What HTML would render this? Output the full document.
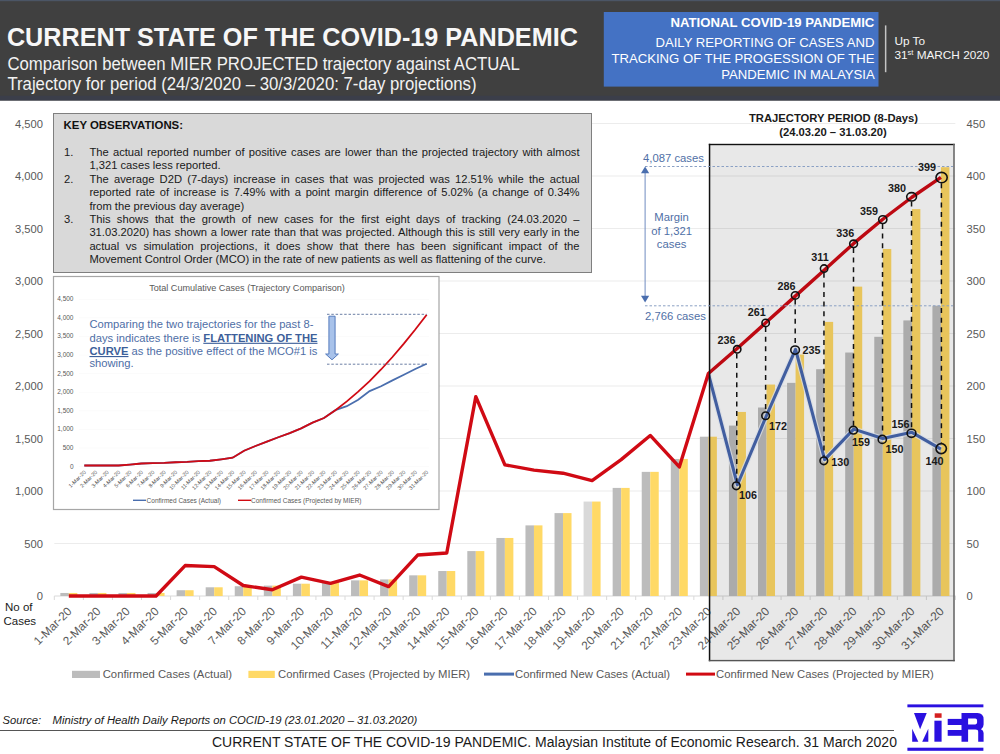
<!DOCTYPE html>
<html><head><meta charset="utf-8"><style>
html,body{margin:0;padding:0;background:#fff;}
body{width:1000px;height:754px;position:relative;overflow:hidden;font-family:"Liberation Sans", sans-serif;}
.abs{position:absolute;}
.ko{position:absolute;left:89.4px;width:490.2px;font-size:11.2px;line-height:13.4px;color:#1a1a1a;white-space:nowrap;}
.j{text-align:justify;text-align-last:justify;white-space:normal;}
</style></head><body>

<svg class="abs" style="left:0;top:0" width="1000" height="754" viewBox="0 0 1000 754" font-family='"Liberation Sans", sans-serif'>
<rect x="0" y="0" width="1000" height="100.5" fill="#404040"/>
<rect x="0" y="0" width="1000" height="1.2" fill="#4b5565"/>
<rect x="0" y="95.8" width="1000" height="4.7" fill="#3b3e4a"/>
<text x="6.9" y="46.2" font-size="25.2" font-weight="bold" fill="#f7f7f7">CURRENT STATE OF THE COVID-19 PANDEMIC</text>
<text transform="translate(7.4,69.9) scale(1,1.07)" font-size="16.75" fill="#f2f2f2">Comparison between MIER PROJECTED trajectory against ACTUAL</text>
<text transform="translate(7.4,89.7) scale(1,1.07)" font-size="16.75" fill="#f2f2f2">Trajectory for period (24/3/2020 – 30/3/2020: 7-day projections)</text>
<rect x="603.8" y="12" width="274.7" height="74.6" fill="#4472c4"/>
<g fill="#ffffff" text-anchor="end" font-size="13.15">
<text x="874.3" y="27" font-weight="bold">NATIONAL COVID-19 PANDEMIC</text>
<text x="874.5" y="46.6">DAILY REPORTING OF CASES AND</text>
<text x="874.5" y="62.5">TRACKING OF THE PROGESSION OF THE</text>
<text x="874.8" y="78.5">PANDEMIC IN MALAYSIA</text>
</g>
<rect x="884.9" y="25.4" width="1.5" height="46.8" fill="#c4c4c4"/>
<text x="894.4" y="45.4" font-size="11.8" fill="#f5f5f5">Up To</text>
<text x="894.4" y="59" font-size="11.8" fill="#f5f5f5">31<tspan font-size="7.5" dy="-4.3">st</tspan><tspan dy="4.3"> MARCH 2020</tspan></text>
<rect x="54.3" y="543.00" width="901" height="1" fill="#ececec"/>
<rect x="54.3" y="490.50" width="901" height="1" fill="#ececec"/>
<rect x="54.3" y="438.00" width="901" height="1" fill="#ececec"/>
<rect x="54.3" y="385.50" width="901" height="1" fill="#ececec"/>
<rect x="54.3" y="333.00" width="901" height="1" fill="#ececec"/>
<rect x="54.3" y="280.50" width="901" height="1" fill="#ececec"/>
<rect x="54.3" y="228.00" width="901" height="1" fill="#ececec"/>
<rect x="54.3" y="175.50" width="901" height="1" fill="#ececec"/>
<rect x="54.3" y="123.00" width="901" height="1" fill="#ececec"/>
<rect x="54.3" y="595.5" width="901.5" height="1" fill="#d9d9d9"/>
<rect x="53.80" y="596.0" width="1" height="4" fill="#d9d9d9"/>
<rect x="82.87" y="596.0" width="1" height="4" fill="#d9d9d9"/>
<rect x="111.94" y="596.0" width="1" height="4" fill="#d9d9d9"/>
<rect x="141.01" y="596.0" width="1" height="4" fill="#d9d9d9"/>
<rect x="170.08" y="596.0" width="1" height="4" fill="#d9d9d9"/>
<rect x="199.15" y="596.0" width="1" height="4" fill="#d9d9d9"/>
<rect x="228.22" y="596.0" width="1" height="4" fill="#d9d9d9"/>
<rect x="257.29" y="596.0" width="1" height="4" fill="#d9d9d9"/>
<rect x="286.36" y="596.0" width="1" height="4" fill="#d9d9d9"/>
<rect x="315.43" y="596.0" width="1" height="4" fill="#d9d9d9"/>
<rect x="344.50" y="596.0" width="1" height="4" fill="#d9d9d9"/>
<rect x="373.57" y="596.0" width="1" height="4" fill="#d9d9d9"/>
<rect x="402.64" y="596.0" width="1" height="4" fill="#d9d9d9"/>
<rect x="431.71" y="596.0" width="1" height="4" fill="#d9d9d9"/>
<rect x="460.78" y="596.0" width="1" height="4" fill="#d9d9d9"/>
<rect x="489.85" y="596.0" width="1" height="4" fill="#d9d9d9"/>
<rect x="518.92" y="596.0" width="1" height="4" fill="#d9d9d9"/>
<rect x="547.99" y="596.0" width="1" height="4" fill="#d9d9d9"/>
<rect x="577.06" y="596.0" width="1" height="4" fill="#d9d9d9"/>
<rect x="606.13" y="596.0" width="1" height="4" fill="#d9d9d9"/>
<rect x="635.20" y="596.0" width="1" height="4" fill="#d9d9d9"/>
<rect x="664.27" y="596.0" width="1" height="4" fill="#d9d9d9"/>
<rect x="693.34" y="596.0" width="1" height="4" fill="#d9d9d9"/>
<rect x="722.41" y="596.0" width="1" height="4" fill="#d9d9d9"/>
<rect x="751.48" y="596.0" width="1" height="4" fill="#d9d9d9"/>
<rect x="780.55" y="596.0" width="1" height="4" fill="#d9d9d9"/>
<rect x="809.62" y="596.0" width="1" height="4" fill="#d9d9d9"/>
<rect x="838.69" y="596.0" width="1" height="4" fill="#d9d9d9"/>
<rect x="867.76" y="596.0" width="1" height="4" fill="#d9d9d9"/>
<rect x="896.83" y="596.0" width="1" height="4" fill="#d9d9d9"/>
<rect x="925.90" y="596.0" width="1" height="4" fill="#d9d9d9"/>
<rect x="954.97" y="596.0" width="1" height="4" fill="#d9d9d9"/>
<rect x="60.33" y="592.96" width="8.5" height="3.04" fill="#bcbcbc"/>
<rect x="68.83" y="592.96" width="8.5" height="3.04" fill="#ffd966"/>
<rect x="89.41" y="592.96" width="8.5" height="3.04" fill="#bcbcbc"/>
<rect x="97.91" y="592.96" width="8.5" height="3.04" fill="#ffd966"/>
<rect x="118.47" y="592.96" width="8.5" height="3.04" fill="#bcbcbc"/>
<rect x="126.97" y="592.96" width="8.5" height="3.04" fill="#ffd966"/>
<rect x="147.55" y="592.96" width="8.5" height="3.04" fill="#bcbcbc"/>
<rect x="156.05" y="592.96" width="8.5" height="3.04" fill="#ffd966"/>
<rect x="176.62" y="590.23" width="8.5" height="5.77" fill="#bcbcbc"/>
<rect x="185.12" y="590.23" width="8.5" height="5.77" fill="#ffd966"/>
<rect x="205.69" y="587.29" width="8.5" height="8.71" fill="#bcbcbc"/>
<rect x="214.19" y="587.29" width="8.5" height="8.71" fill="#ffd966"/>
<rect x="234.75" y="586.24" width="8.5" height="9.76" fill="#bcbcbc"/>
<rect x="243.25" y="586.24" width="8.5" height="9.76" fill="#ffd966"/>
<rect x="263.82" y="585.61" width="8.5" height="10.39" fill="#bcbcbc"/>
<rect x="272.32" y="585.61" width="8.5" height="10.39" fill="#ffd966"/>
<rect x="292.89" y="583.72" width="8.5" height="12.28" fill="#bcbcbc"/>
<rect x="301.39" y="583.72" width="8.5" height="12.28" fill="#ffd966"/>
<rect x="321.97" y="582.46" width="8.5" height="13.54" fill="#bcbcbc"/>
<rect x="330.47" y="582.46" width="8.5" height="13.54" fill="#ffd966"/>
<rect x="351.04" y="580.36" width="8.5" height="15.64" fill="#bcbcbc"/>
<rect x="359.54" y="580.36" width="8.5" height="15.64" fill="#ffd966"/>
<rect x="380.11" y="579.42" width="8.5" height="16.58" fill="#bcbcbc"/>
<rect x="388.61" y="579.42" width="8.5" height="16.58" fill="#ffd966"/>
<rect x="409.18" y="575.33" width="8.5" height="20.67" fill="#bcbcbc"/>
<rect x="417.68" y="575.33" width="8.5" height="20.67" fill="#ffd966"/>
<rect x="438.25" y="571.02" width="8.5" height="24.98" fill="#bcbcbc"/>
<rect x="446.75" y="571.02" width="8.5" height="24.98" fill="#ffd966"/>
<rect x="467.31" y="551.09" width="8.5" height="44.91" fill="#bcbcbc"/>
<rect x="475.81" y="551.09" width="8.5" height="44.91" fill="#ffd966"/>
<rect x="496.38" y="537.97" width="8.5" height="58.03" fill="#bcbcbc"/>
<rect x="504.88" y="537.97" width="8.5" height="58.03" fill="#ffd966"/>
<rect x="525.46" y="525.38" width="8.5" height="70.62" fill="#bcbcbc"/>
<rect x="533.96" y="525.38" width="8.5" height="70.62" fill="#ffd966"/>
<rect x="554.52" y="513.10" width="8.5" height="82.90" fill="#bcbcbc"/>
<rect x="563.02" y="513.10" width="8.5" height="82.90" fill="#ffd966"/>
<rect x="583.59" y="501.55" width="8.5" height="94.45" fill="#d9d9d9"/>
<rect x="592.09" y="501.55" width="8.5" height="94.45" fill="#ffd966"/>
<rect x="612.66" y="487.91" width="8.5" height="108.09" fill="#bcbcbc"/>
<rect x="621.16" y="487.91" width="8.5" height="108.09" fill="#ffd966"/>
<rect x="641.74" y="471.86" width="8.5" height="124.14" fill="#bcbcbc"/>
<rect x="650.24" y="471.86" width="8.5" height="124.14" fill="#ffd966"/>
<rect x="670.80" y="458.95" width="8.5" height="137.05" fill="#bcbcbc"/>
<rect x="679.30" y="458.95" width="8.5" height="137.05" fill="#ffd966"/>
<rect x="699.88" y="436.70" width="8.5" height="159.30" fill="#bcbcbc"/>
<rect x="708.38" y="436.70" width="8.5" height="159.30" fill="#ffd966"/>
<rect x="728.94" y="425.58" width="8.5" height="170.42" fill="#bcbcbc"/>
<rect x="737.44" y="411.94" width="8.5" height="184.06" fill="#ffd966"/>
<rect x="758.01" y="407.53" width="8.5" height="188.47" fill="#bcbcbc"/>
<rect x="766.51" y="384.55" width="8.5" height="211.45" fill="#ffd966"/>
<rect x="787.08" y="382.87" width="8.5" height="213.13" fill="#bcbcbc"/>
<rect x="795.58" y="354.53" width="8.5" height="241.47" fill="#ffd966"/>
<rect x="816.15" y="369.22" width="8.5" height="226.78" fill="#bcbcbc"/>
<rect x="824.65" y="321.90" width="8.5" height="274.10" fill="#ffd966"/>
<rect x="845.22" y="352.54" width="8.5" height="243.46" fill="#bcbcbc"/>
<rect x="853.72" y="286.64" width="8.5" height="309.36" fill="#ffd966"/>
<rect x="874.29" y="336.80" width="8.5" height="259.20" fill="#bcbcbc"/>
<rect x="882.79" y="248.96" width="8.5" height="347.04" fill="#ffd966"/>
<rect x="903.37" y="320.43" width="8.5" height="275.57" fill="#bcbcbc"/>
<rect x="911.87" y="209.09" width="8.5" height="386.91" fill="#ffd966"/>
<rect x="932.43" y="305.74" width="8.5" height="290.26" fill="#bcbcbc"/>
<rect x="940.93" y="167.22" width="8.5" height="428.78" fill="#ffd966"/>
<polyline points="708.38,373.53 737.44,484.76 766.51,415.50 795.58,349.39 824.65,459.58 853.72,429.15 882.79,438.59 911.87,432.29 940.93,449.08" fill="none" stroke="#eef3fb" stroke-width="5.4" stroke-linejoin="round" opacity="0.8"/>
<polyline points="708.38,373.53 737.44,484.76 766.51,415.50 795.58,349.39 824.65,459.58 853.72,429.15 882.79,438.59 911.87,432.29 940.93,449.08" fill="none" stroke="#4868b0" stroke-width="3.1" stroke-linejoin="round"/>
<polyline points="68.83,596.00 97.91,596.00 126.97,596.00 156.05,596.00 185.12,565.57 214.19,566.62 243.25,585.51 272.32,589.70 301.39,577.11 330.47,583.41 359.54,575.01 388.61,586.56 417.68,555.07 446.75,552.97 475.81,396.61 504.88,464.82 533.96,470.07 563.02,473.22 592.09,480.57 621.16,459.58 650.24,435.44 679.30,466.92 708.38,373.53 737.44,348.34 766.51,322.11 795.58,295.87 824.65,269.64 853.72,243.40 882.79,219.27 911.87,197.23 940.93,177.29" fill="none" stroke="#d00a14" stroke-width="3.4" stroke-linejoin="round"/>
<g font-size="11.2" fill="#595959" text-anchor="end">
<text x="43" y="600.00">0</text>
<text x="43" y="547.50">500</text>
<text x="43" y="495.00">1,000</text>
<text x="43" y="442.50">1,500</text>
<text x="43" y="390.00">2,000</text>
<text x="43" y="337.50">2,500</text>
<text x="43" y="285.00">3,000</text>
<text x="43" y="232.50">3,500</text>
<text x="43" y="180.00">4,000</text>
<text x="43" y="127.50">4,500</text>
</g>
<g font-size="11.2" fill="#595959" text-anchor="start">
<text x="966.5" y="600.00">0</text>
<text x="966.5" y="547.50">50</text>
<text x="966.5" y="495.00">100</text>
<text x="966.5" y="442.50">150</text>
<text x="966.5" y="390.00">200</text>
<text x="966.5" y="337.50">250</text>
<text x="966.5" y="285.00">300</text>
<text x="966.5" y="232.50">350</text>
<text x="966.5" y="180.00">400</text>
<text x="966.5" y="127.50">450</text>
</g>
<text x="5" y="611" font-size="11.5" fill="#1a1a1a">No of</text>
<text x="3.5" y="624.5" font-size="11.5" fill="#1a1a1a">Cases</text>
<g font-size="11.8" fill="#595959" text-anchor="end">
<text transform="translate(72.43,612.00) rotate(-45)">1-Mar-20</text>
<text transform="translate(101.50,612.00) rotate(-45)">2-Mar-20</text>
<text transform="translate(130.57,612.00) rotate(-45)">3-Mar-20</text>
<text transform="translate(159.65,612.00) rotate(-45)">4-Mar-20</text>
<text transform="translate(188.72,612.00) rotate(-45)">5-Mar-20</text>
<text transform="translate(217.78,612.00) rotate(-45)">6-Mar-20</text>
<text transform="translate(246.85,612.00) rotate(-45)">7-Mar-20</text>
<text transform="translate(275.93,612.00) rotate(-45)">8-Mar-20</text>
<text transform="translate(305.00,612.00) rotate(-45)">9-Mar-20</text>
<text transform="translate(334.07,612.00) rotate(-45)">10-Mar-20</text>
<text transform="translate(363.14,612.00) rotate(-45)">11-Mar-20</text>
<text transform="translate(392.21,612.00) rotate(-45)">12-Mar-20</text>
<text transform="translate(421.28,612.00) rotate(-45)">13-Mar-20</text>
<text transform="translate(450.35,612.00) rotate(-45)">14-Mar-20</text>
<text transform="translate(479.42,612.00) rotate(-45)">15-Mar-20</text>
<text transform="translate(508.49,612.00) rotate(-45)">16-Mar-20</text>
<text transform="translate(537.56,612.00) rotate(-45)">17-Mar-20</text>
<text transform="translate(566.62,612.00) rotate(-45)">18-Mar-20</text>
<text transform="translate(595.69,612.00) rotate(-45)">19-Mar-20</text>
<text transform="translate(624.76,612.00) rotate(-45)">20-Mar-20</text>
<text transform="translate(653.84,612.00) rotate(-45)">21-Mar-20</text>
<text transform="translate(682.90,612.00) rotate(-45)">22-Mar-20</text>
<text transform="translate(711.98,612.00) rotate(-45)">23-Mar-20</text>
<text transform="translate(741.04,612.00) rotate(-45)">24-Mar-20</text>
<text transform="translate(770.12,612.00) rotate(-45)">25-Mar-20</text>
<text transform="translate(799.18,612.00) rotate(-45)">26-Mar-20</text>
<text transform="translate(828.25,612.00) rotate(-45)">27-Mar-20</text>
<text transform="translate(857.32,612.00) rotate(-45)">28-Mar-20</text>
<text transform="translate(886.39,612.00) rotate(-45)">29-Mar-20</text>
<text transform="translate(915.47,612.00) rotate(-45)">30-Mar-20</text>
<text transform="translate(944.53,612.00) rotate(-45)">31-Mar-20</text>
</g>
<rect x="72" y="670.8" width="28" height="7.2" fill="#bcbcbc"/>
<text x="102.7" y="678.2" font-size="11.3" fill="#595959">Confirmed Cases (Actual)</text>
<rect x="248.4" y="670.8" width="26.4" height="7.2" fill="#ffd966"/>
<text x="278" y="678.2" font-size="11.3" fill="#595959">Confirmed Cases (Projected by MIER)</text>
<rect x="484" y="672.6" width="30" height="3" fill="#4a6eae"/>
<text x="515" y="678.2" font-size="11.3" fill="#595959">Confirmed New Cases (Actual)</text>
<rect x="686" y="672.6" width="29" height="3" fill="#d10a12"/>
<text x="716" y="678.2" font-size="11.3" fill="#595959">Confirmed New Cases (Projected by MIER)</text>
<rect x="709" y="144.5" width="245" height="516" fill="rgba(0,0,0,0.09)"/>
<rect x="708.8" y="143.8" width="1.5" height="517.4" fill="#111"/>
<rect x="708.8" y="143.8" width="246" height="1.4" fill="#111"/>
<rect x="953.2" y="143.8" width="1.6" height="517.4" fill="#6a6a6a"/>
<rect x="708.8" y="659.9" width="246" height="1.4" fill="#555"/>
<g font-size="11.25" font-weight="bold" fill="#1a1a1a" text-anchor="middle">
<text x="833.5" y="122.3">TRAJECTORY PERIOD (8-Days)</text>
<text x="833" y="136.2">(24.03.20 – 31.03.20)</text>
</g>
<line x1="645" y1="166.5" x2="953" y2="166.5" stroke="#8aa0c4" stroke-width="1" stroke-dasharray="2.5,2"/>
<line x1="645" y1="305.8" x2="953" y2="305.8" stroke="#8aa0c4" stroke-width="1" stroke-dasharray="2.5,2"/>
<line x1="645.1" y1="172" x2="645.1" y2="297" stroke="#6f8cc0" stroke-width="1"/>
<polygon points="645.1,166.5 641,173.2 649.2,173.2" fill="#4a6eae"/>
<polygon points="645.1,302.4 641,295.7 649.2,295.7" fill="#4a6eae"/>
<g font-size="11.3" fill="#4f6fa6">
<text x="643" y="162">4,087 cases</text>
<text x="645" y="320.4">2,766 cases</text>
<text x="671.6" y="221" text-anchor="middle">Margin</text>
<text x="671.6" y="234.5" text-anchor="middle">of 1,321</text>
<text x="671.6" y="248" text-anchor="middle">cases</text>
</g>
<line x1="736.75" y1="353.50" x2="736.75" y2="481.50" stroke="#111" stroke-width="1.5" stroke-dasharray="5,4.6"/>
<line x1="765.62" y1="327.10" x2="765.62" y2="411.45" stroke="#111" stroke-width="1.5" stroke-dasharray="5,4.6"/>
<line x1="795.20" y1="299.60" x2="795.20" y2="345.50" stroke="#111" stroke-width="1.5" stroke-dasharray="5,4.6"/>
<line x1="823.95" y1="272.80" x2="823.95" y2="456.50" stroke="#111" stroke-width="1.5" stroke-dasharray="5,4.6"/>
<line x1="853.50" y1="248.00" x2="853.50" y2="425.90" stroke="#111" stroke-width="1.5" stroke-dasharray="5,4.6"/>
<line x1="882.55" y1="224.00" x2="882.55" y2="434.90" stroke="#111" stroke-width="1.5" stroke-dasharray="5,4.6"/>
<line x1="911.55" y1="201.50" x2="911.55" y2="428.70" stroke="#111" stroke-width="1.5" stroke-dasharray="5,4.6"/>
<line x1="941.40" y1="183.30" x2="941.40" y2="443.10" stroke="#111" stroke-width="1.5" stroke-dasharray="5,4.6"/>
<ellipse cx="737.20" cy="349.30" rx="3.7" ry="3.7" fill="none" stroke="#111" stroke-width="1.6"/>
<ellipse cx="765.65" cy="322.90" rx="3.7" ry="3.7" fill="none" stroke="#111" stroke-width="1.6"/>
<ellipse cx="795.30" cy="295.40" rx="3.9" ry="3.7" fill="none" stroke="#111" stroke-width="1.6"/>
<ellipse cx="824.10" cy="268.60" rx="3.7" ry="3.7" fill="none" stroke="#111" stroke-width="1.6"/>
<ellipse cx="853.60" cy="243.80" rx="3.9" ry="3.7" fill="none" stroke="#111" stroke-width="1.6"/>
<ellipse cx="882.80" cy="219.60" rx="4.1" ry="3.9" fill="none" stroke="#111" stroke-width="1.6"/>
<ellipse cx="911.60" cy="196.80" rx="4.9" ry="4.2" fill="none" stroke="#111" stroke-width="1.6"/>
<ellipse cx="941.60" cy="177.60" rx="5.6" ry="5.2" fill="none" stroke="#111" stroke-width="1.6"/>
<ellipse cx="736.30" cy="485.80" rx="3.8" ry="3.8" fill="none" stroke="#111" stroke-width="1.6"/>
<ellipse cx="765.60" cy="415.75" rx="3.8" ry="3.8" fill="none" stroke="#111" stroke-width="1.6"/>
<ellipse cx="795.10" cy="350.10" rx="4.3" ry="4.1" fill="none" stroke="#111" stroke-width="1.6"/>
<ellipse cx="823.80" cy="460.80" rx="3.8" ry="3.8" fill="none" stroke="#111" stroke-width="1.6"/>
<ellipse cx="853.40" cy="430.20" rx="4.1" ry="3.8" fill="none" stroke="#111" stroke-width="1.6"/>
<ellipse cx="882.30" cy="439.40" rx="4.1" ry="4.0" fill="none" stroke="#111" stroke-width="1.6"/>
<ellipse cx="911.50" cy="433.30" rx="4.4" ry="4.1" fill="none" stroke="#111" stroke-width="1.6"/>
<ellipse cx="941.20" cy="448.60" rx="5.2" ry="5.0" fill="none" stroke="#111" stroke-width="1.6"/>
<g font-size="10.8" font-weight="bold" fill="#1a1a1a" text-anchor="middle">
<text x="726.4" y="344.4">236</text>
<text x="756.7" y="315.75">261</text>
<text x="786.4" y="289.7">286</text>
<text x="820" y="260.5">311</text>
<text x="845.3" y="236.6">336</text>
<text x="869" y="215.3">359</text>
<text x="897" y="192">380</text>
<text x="927" y="170.8">399</text>
<text x="748.1" y="498.9">106</text>
<text x="777.9" y="429.9">172</text>
<text x="811.5" y="353.5">235</text>
<text x="840.3" y="466.4">130</text>
<text x="860.9" y="446">159</text>
<text x="894.6" y="452.7">150</text>
<text x="900.5" y="428">156</text>
<text x="934.4" y="464.7">140</text>
</g>
<g fill="#2a10e0">
<rect x="907.4" y="704.4" width="76" height="2.9"/>
<rect x="907.4" y="747.7" width="76" height="3.1"/>
<polygon points="914,713 926.75,713 920.1,729.2"/>
<polygon points="912.2,728.7 912.2,741.7 918.3,741.7"/>
<polygon points="928.3,728.7 928.3,741.7 922.2,741.7"/>
<rect x="934.4" y="720.7" width="7.2" height="21"/>
<rect x="947.7" y="718.9" width="15.1" height="6.1"/>
<rect x="947.7" y="730" width="15.1" height="5.8"/>
<path d="M961.5,713 H977.5 Q983.6,713 983.6,719.5 V724.5 Q983.6,727.8 981,729.2 Q983.6,730.2 983.6,733 V741.7 H978.2 V732 Q978.2,729.6 975.5,729.6 H968.1 V741.7 H961.5 Z M968.1,718.6 V724.4 H975.3 Q977.1,724.4 977.1,722.6 V720.4 Q977.1,718.6 975.3,718.6 Z" fill-rule="evenodd"/>
</g>
<rect x="934.7" y="713.3" width="6.9" height="4.5" fill="#d42020"/>
<text x="2.6" y="723.75" font-size="11.2" font-style="italic" fill="#1a1a1a">Source:</text>
<text x="52.6" y="723.75" font-size="11.25" font-style="italic" fill="#1a1a1a">Ministry of Health Daily Reports on COCID-19 (23.01.2020 – 31.03.2020)</text>
<rect x="0" y="730" width="894" height="1" fill="#555"/>
<text x="212" y="747" font-size="14" fill="#1a1a1a">CURRENT STATE OF THE COVID-19 PANDEMIC. Malaysian Institute of Economic Research. 31 March 2020</text>
</svg>
<div class="abs" style="left:53.4px;top:113.3px;width:536.6px;height:157.6px;background:#d9d9d9;border:1px solid #7f7f7f;"></div>
<div class="abs" style="left:63.6px;top:117.8px;font-size:11.4px;font-weight:bold;color:#111;line-height:14px;">KEY OBSERVATIONS:</div>
<div class="ko j" style="top:145.90px;">The actual reported number of positive cases are lower than the projected trajectory with almost</div>
<div class="ko" style="left:64px;width:20px;top:145.90px;">1.</div>
<div class="ko" style="top:159.30px;">1,321 cases less reported.</div>
<div class="ko j" style="top:172.70px;">The average D2D (7-days) increase in cases that was projected was 12.51% while the actual</div>
<div class="ko" style="left:64px;width:20px;top:172.70px;">2.</div>
<div class="ko j" style="top:186.10px;">reported rate of increase is 7.49% with a point margin difference of 5.02% (a change of 0.34%</div>
<div class="ko" style="top:199.50px;">from the previous day average)</div>
<div class="ko j" style="top:212.90px;">This shows that the growth of new cases for the first eight days of tracking (24.03.2020 –</div>
<div class="ko" style="left:64px;width:20px;top:212.90px;">3.</div>
<div class="ko j" style="top:226.30px;">31.03.2020) has shown a lower rate than that was projected. Although this is still very early in the</div>
<div class="ko j" style="top:239.70px;">actual vs simulation projections, it does show that there has been significant impact of the</div>
<div class="ko" style="top:253.10px;">Movement Control Order (MCO) in the rate of new patients as well as flattening of the curve.</div>
<svg class="abs" style="left:0;top:0" width="1000" height="754" viewBox="0 0 1000 754" font-family='"Liberation Sans", sans-serif'>
<rect x="53.5" y="276.5" width="385.5" height="233" fill="#ffffff" stroke="#a6a6a6" stroke-width="1.2"/>
<text x="247" y="291" font-size="9.1" fill="#595959" text-anchor="middle">Total Cumulative Cases (Trajectory Comparison)</text>
<rect x="79" y="466.20" width="350" height="0.8" fill="#fafafa"/>
<rect x="79" y="447.61" width="350" height="0.8" fill="#fafafa"/>
<rect x="79" y="429.02" width="350" height="0.8" fill="#fafafa"/>
<rect x="79" y="410.43" width="350" height="0.8" fill="#fafafa"/>
<rect x="79" y="391.84" width="350" height="0.8" fill="#fafafa"/>
<rect x="79" y="373.26" width="350" height="0.8" fill="#fafafa"/>
<rect x="79" y="354.67" width="350" height="0.8" fill="#fafafa"/>
<rect x="79" y="336.08" width="350" height="0.8" fill="#fafafa"/>
<rect x="79" y="317.49" width="350" height="0.8" fill="#fafafa"/>
<rect x="79" y="298.90" width="350" height="0.8" fill="#fafafa"/>
<g font-size="6.5" fill="#595959" text-anchor="end">
<text x="73.5" y="468.60">0</text>
<text x="73.5" y="450.01">500</text>
<text x="73.5" y="431.42">1,000</text>
<text x="73.5" y="412.83">1,500</text>
<text x="73.5" y="394.24">2,000</text>
<text x="73.5" y="375.66">2,500</text>
<text x="73.5" y="357.07">3,000</text>
<text x="73.5" y="338.48">3,500</text>
<text x="73.5" y="319.89">4,000</text>
<text x="73.5" y="301.30">4,500</text>
</g>
<g font-size="5.4" fill="#4a4a4a" text-anchor="end">
<text transform="translate(86.31,472.60) rotate(-45)">1-Mar-20</text>
<text transform="translate(97.72,472.60) rotate(-45)">2-Mar-20</text>
<text transform="translate(109.13,472.60) rotate(-45)">3-Mar-20</text>
<text transform="translate(120.55,472.60) rotate(-45)">4-Mar-20</text>
<text transform="translate(131.96,472.60) rotate(-45)">5-Mar-20</text>
<text transform="translate(143.37,472.60) rotate(-45)">6-Mar-20</text>
<text transform="translate(154.78,472.60) rotate(-45)">7-Mar-20</text>
<text transform="translate(166.20,472.60) rotate(-45)">8-Mar-20</text>
<text transform="translate(177.61,472.60) rotate(-45)">9-Mar-20</text>
<text transform="translate(189.02,472.60) rotate(-45)">10-Mar-20</text>
<text transform="translate(200.44,472.60) rotate(-45)">11-Mar-20</text>
<text transform="translate(211.85,472.60) rotate(-45)">12-Mar-20</text>
<text transform="translate(223.26,472.60) rotate(-45)">13-Mar-20</text>
<text transform="translate(234.68,472.60) rotate(-45)">14-Mar-20</text>
<text transform="translate(246.09,472.60) rotate(-45)">15-Mar-20</text>
<text transform="translate(257.50,472.60) rotate(-45)">16-Mar-20</text>
<text transform="translate(268.91,472.60) rotate(-45)">17-Mar-20</text>
<text transform="translate(280.33,472.60) rotate(-45)">18-Mar-20</text>
<text transform="translate(291.74,472.60) rotate(-45)">19-Mar-20</text>
<text transform="translate(303.15,472.60) rotate(-45)">20-Mar-20</text>
<text transform="translate(314.57,472.60) rotate(-45)">21-Mar-20</text>
<text transform="translate(325.98,472.60) rotate(-45)">22-Mar-20</text>
<text transform="translate(337.39,472.60) rotate(-45)">23-Mar-20</text>
<text transform="translate(348.81,472.60) rotate(-45)">24-Mar-20</text>
<text transform="translate(360.22,472.60) rotate(-45)">25-Mar-20</text>
<text transform="translate(371.63,472.60) rotate(-45)">26-Mar-20</text>
<text transform="translate(383.04,472.60) rotate(-45)">27-Mar-20</text>
<text transform="translate(394.46,472.60) rotate(-45)">28-Mar-20</text>
<text transform="translate(405.87,472.60) rotate(-45)">29-Mar-20</text>
<text transform="translate(417.28,472.60) rotate(-45)">30-Mar-20</text>
<text transform="translate(428.70,472.60) rotate(-45)">31-Mar-20</text>
</g>
<polyline points="84.31,465.52 95.72,465.52 107.13,465.52 118.55,465.52 129.96,464.56 141.37,463.51 152.78,463.14 164.20,462.92 175.61,462.25 187.02,461.80 198.44,461.06 209.85,460.73 221.26,459.28 232.68,457.75 244.09,450.69 255.50,446.04 266.91,441.58 278.33,437.23 289.74,433.14 301.15,428.31 312.57,422.62 323.98,418.05 335.39,410.16 346.81,406.22 358.22,399.83 369.63,391.09 381.04,386.26 392.46,380.35 403.87,374.77 415.28,368.97 426.70,363.77" fill="none" stroke="#4a6eae" stroke-width="1.8"/>
<polyline points="84.31,465.52 95.72,465.52 107.13,465.52 118.55,465.52 129.96,464.56 141.37,463.51 152.78,463.14 164.20,462.92 175.61,462.25 187.02,461.80 198.44,461.06 209.85,460.73 221.26,459.28 232.68,457.75 244.09,450.69 255.50,446.04 266.91,441.58 278.33,437.23 289.74,433.14 301.15,428.31 312.57,422.62 323.98,418.05 335.39,410.16 346.81,401.39 358.22,391.69 369.63,381.05 381.04,369.49 392.46,357.00 403.87,343.65 415.28,329.53 426.70,314.69" fill="none" stroke="#d00a14" stroke-width="1.8"/>
<rect x="133" y="499.6" width="13" height="1.4" fill="#4a6eae"/>
<text x="146.6" y="502.8" font-size="6.5" fill="#595959">Confirmed Cases (Actual)</text>
<rect x="238" y="499.6" width="13" height="1.4" fill="#d10a12"/>
<text x="251" y="502.8" font-size="6.5" fill="#595959">Confirmed Cases (Projected by MIER)</text>
<line x1="327" y1="314.3" x2="426.7" y2="314.3" stroke="#5a6f9a" stroke-width="0.9" stroke-dasharray="2.5,1.8"/>
<line x1="327" y1="364.2" x2="426.7" y2="364.2" stroke="#5a6f9a" stroke-width="0.9" stroke-dasharray="2.5,1.8"/>
<polygon points="328.9,316.2 335.1,316.2 335.1,354 338.4,354 332,359.8 325.6,354 328.9,354" fill="#a8c2ea" stroke="#4a72b8" stroke-width="0.9"/>
<g font-size="11.2" fill="#4e6ea6">
<text x="89.5" y="328.25">Comparing the two trajectories for the past 8-</text>
<text x="89.5" y="341.75">days indicates there is <tspan font-weight="bold" fill="#3d5f9a" text-decoration="underline">FLATTENING OF THE</tspan></text>
<text x="89.5" y="355"><tspan font-weight="bold" fill="#3d5f9a" text-decoration="underline">CURVE</tspan> as the positive effect of the MCO#1 is</text>
<text x="89.5" y="366.5">showing.</text>
</g>
</svg>
</body></html>
